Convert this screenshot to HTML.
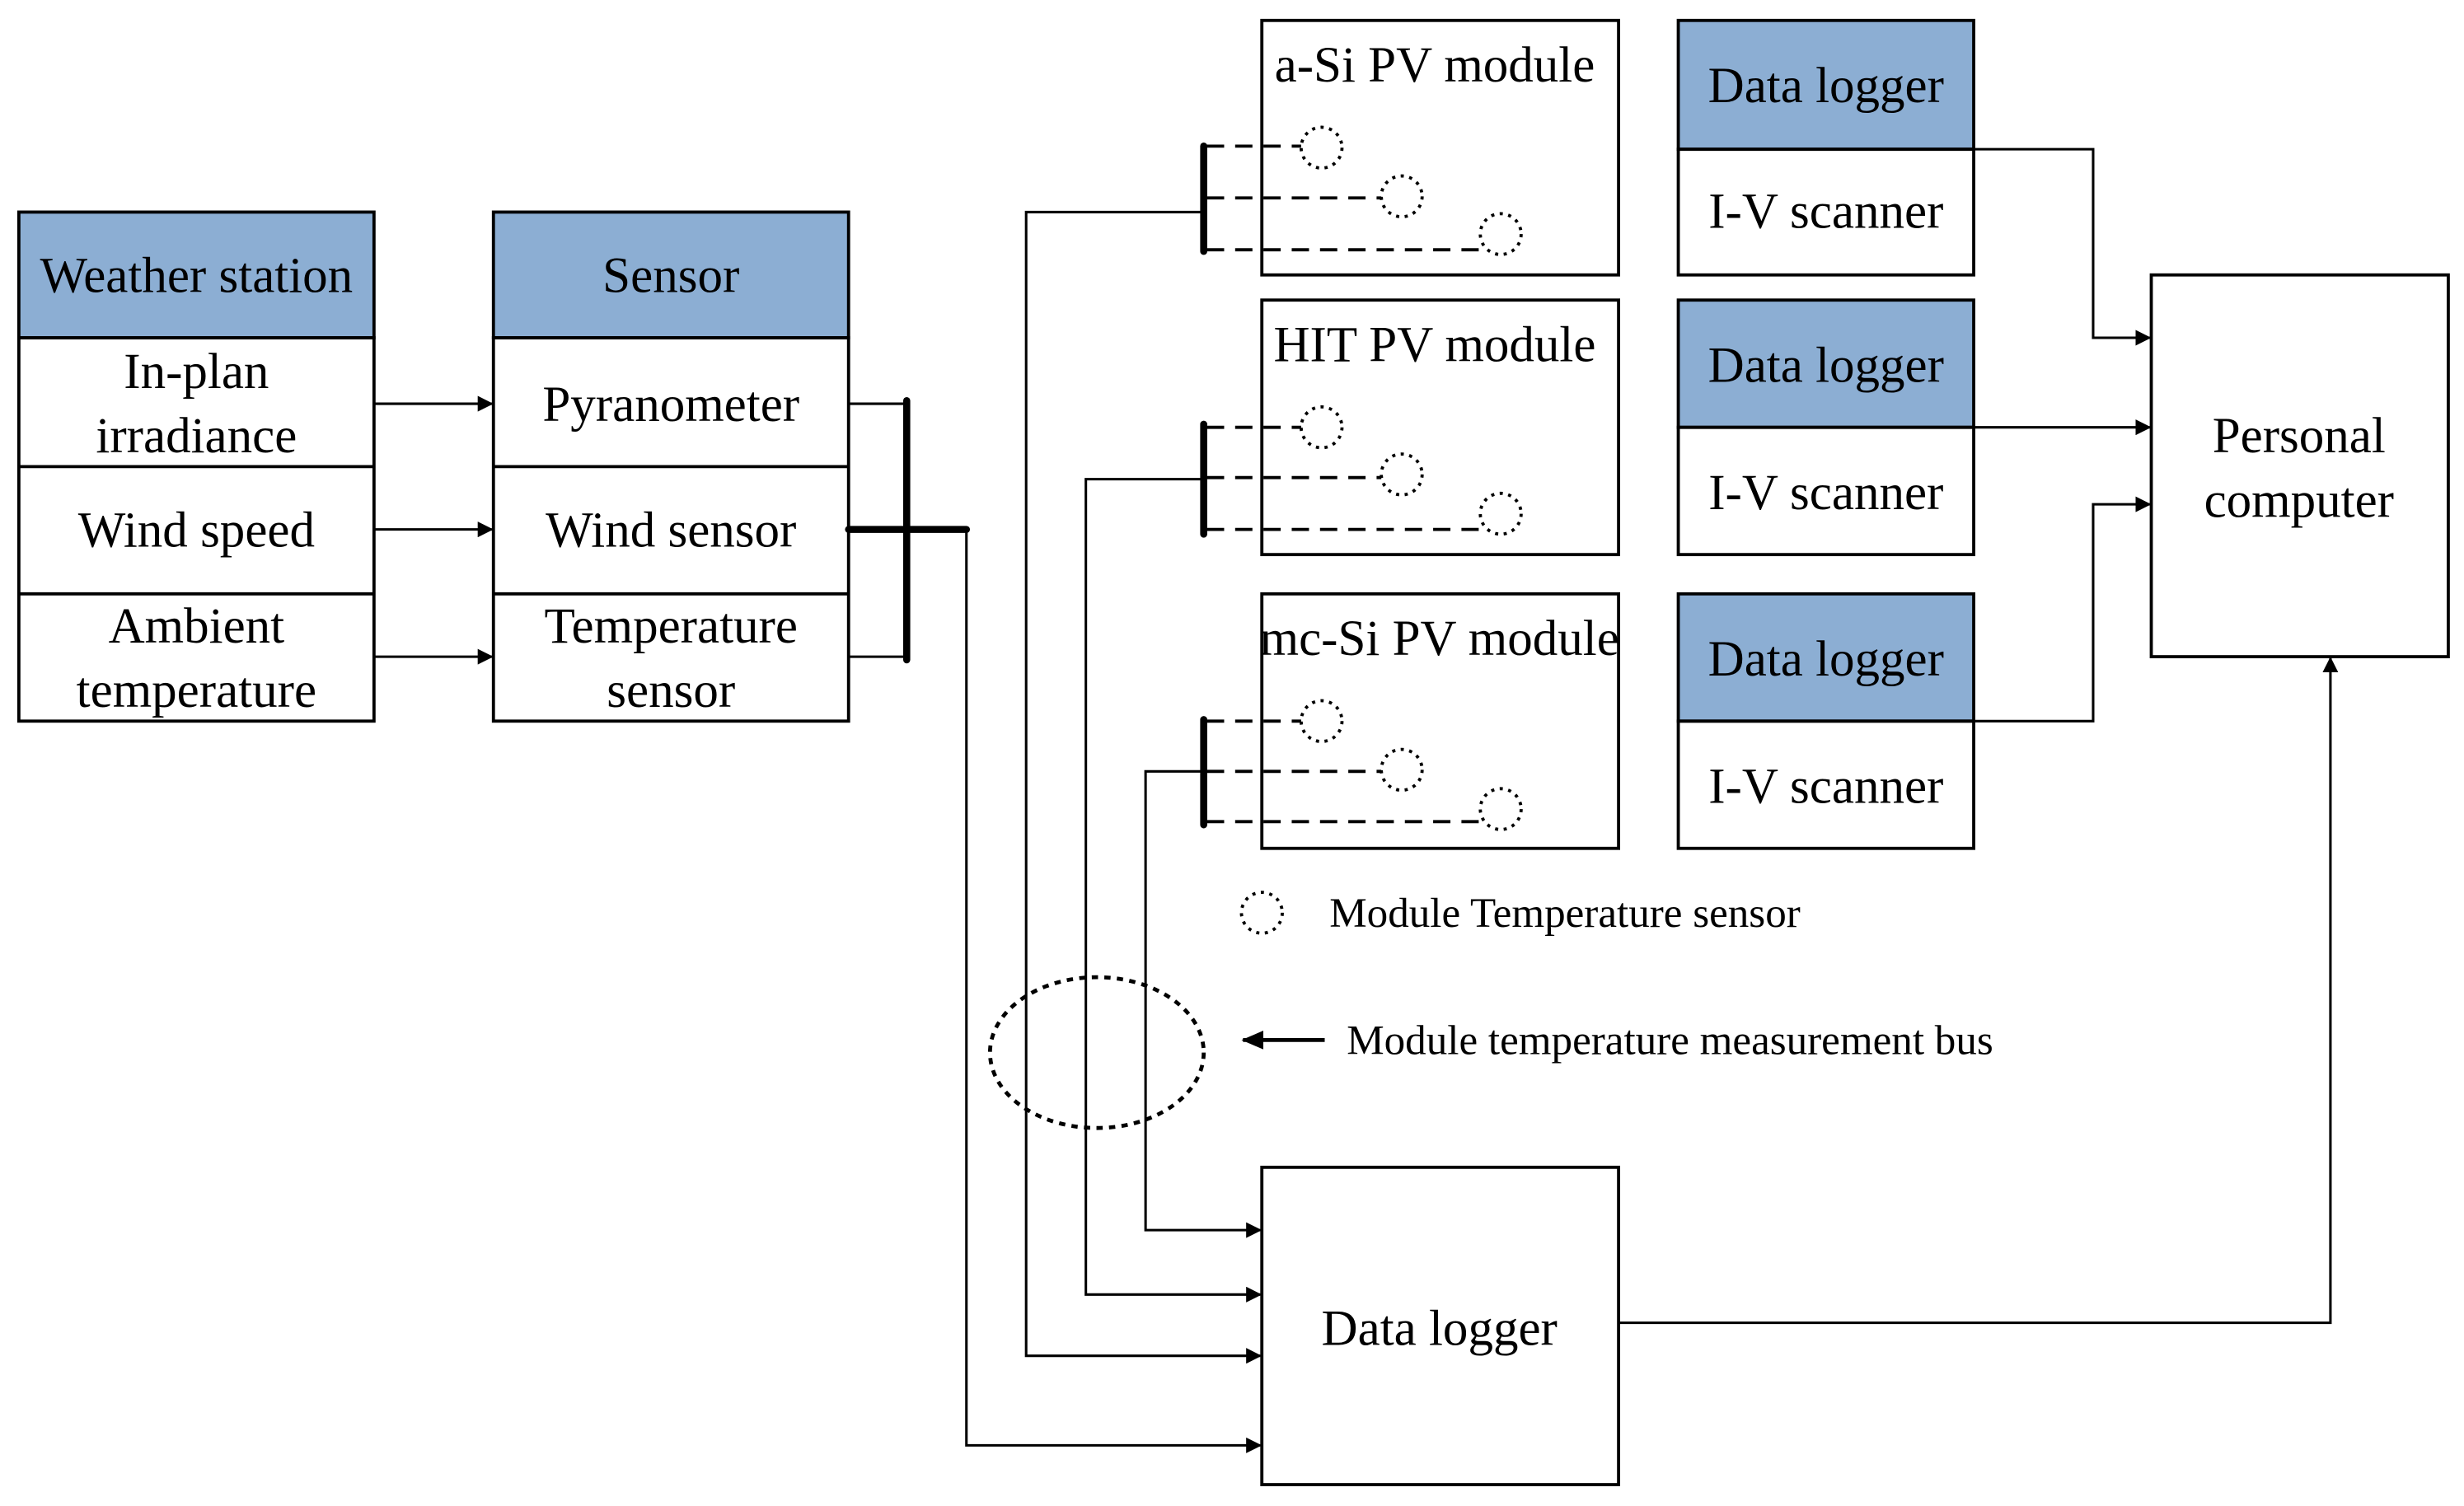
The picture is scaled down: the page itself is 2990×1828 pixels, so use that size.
<!DOCTYPE html>
<html><head><meta charset="utf-8"><style>html,body{margin:0;padding:0;background:#fff}svg{display:block}</style></head><body>
<svg width="2990" height="1828" viewBox="0 0 1568 958.6" preserveAspectRatio="none" xmlns="http://www.w3.org/2000/svg" font-family="Liberation Serif, serif">
<defs><marker id="a" markerWidth="10" markerHeight="10" refX="9" refY="5" orient="auto" markerUnits="userSpaceOnUse"><path d="M0,0 L10,5 L0,10 z" fill="#000"/></marker>
<marker id="b" markerWidth="14" markerHeight="12" refX="13" refY="6" orient="auto" markerUnits="userSpaceOnUse"><path d="M0,0 L14,6 L0,12 z" fill="#000"/></marker></defs>
<g stroke="#000" stroke-width="2" fill="none">
<rect x="12" y="135" width="226" height="80" fill="#8caed3"/>
<rect x="12" y="215" width="226" height="244"/><line x1="12" y1="297" x2="238" y2="297"/><line x1="12" y1="378" x2="238" y2="378"/>
<rect x="314" y="135" width="226" height="80" fill="#8caed3"/>
<rect x="314" y="215" width="226" height="244"/><line x1="314" y1="297" x2="540" y2="297"/><line x1="314" y1="378" x2="540" y2="378"/>
</g>
<g stroke="#000" stroke-width="1.6" fill="none">
<line x1="238" y1="257" x2="313" y2="257" marker-end="url(#a)"/>
<line x1="238" y1="337" x2="313" y2="337" marker-end="url(#a)"/>
<line x1="238" y1="418" x2="313" y2="418" marker-end="url(#a)"/>
<line x1="540" y1="257" x2="577" y2="257"/><line x1="540" y1="418" x2="577" y2="418"/>
<polyline points="615,337 615,920 802,920" marker-end="url(#a)"/>
<polyline points="766,135 653,135 653,863 802,863" marker-end="url(#a)"/>
<polyline points="766,305 691,305 691,824 802,824" marker-end="url(#a)"/>
<polyline points="766,491 729,491 729,783 802,783" marker-end="url(#a)"/>
<polyline points="1030,842 1483,842 1483,419" marker-end="url(#a)"/>
<polyline points="1256,95 1332,95 1332,215 1368,215" marker-end="url(#a)"/>
<polyline points="1256,272 1368,272" marker-end="url(#a)"/>
<polyline points="1256,459 1332,459 1332,321 1368,321" marker-end="url(#a)"/>
</g>
<g stroke="#000" stroke-width="4.5" stroke-linecap="round">
<line x1="577" y1="255" x2="577" y2="420"/><line x1="540" y1="337" x2="615" y2="337"/>
<line x1="766" y1="93" x2="766" y2="160"/><line x1="766" y1="270" x2="766" y2="340"/><line x1="766" y1="458" x2="766" y2="525"/>
</g>
<g stroke="#000" stroke-width="2" fill="none">
<rect x="803" y="13" width="227" height="162"/><rect x="803" y="191" width="227" height="162"/><rect x="803" y="378" width="227" height="162"/>
<rect x="803" y="743" width="227" height="202"/>
<rect x="1068" y="13" width="188" height="82" fill="#8caed3"/><rect x="1068" y="95" width="188" height="80"/>
<rect x="1068" y="191" width="188" height="81" fill="#8caed3"/><rect x="1068" y="272" width="188" height="81"/>
<rect x="1068" y="378" width="188" height="81" fill="#8caed3"/><rect x="1068" y="459" width="188" height="81"/>
<rect x="1369" y="175" width="189" height="243"/>
</g>
<g stroke="#000" stroke-width="2" stroke-dasharray="11,7" fill="none">
<line x1="768" y1="93" x2="828" y2="93"/><line x1="768" y1="126" x2="879" y2="126"/><line x1="768" y1="159" x2="942" y2="159"/>
<line x1="768" y1="272" x2="828" y2="272"/><line x1="768" y1="304" x2="879" y2="304"/><line x1="768" y1="337" x2="942" y2="337"/>
<line x1="768" y1="459" x2="828" y2="459"/><line x1="768" y1="491" x2="879" y2="491"/><line x1="768" y1="523" x2="942" y2="523"/>
</g>
<g stroke="#000" stroke-width="2" stroke-dasharray="2,3.5" fill="none">
<circle cx="841" cy="94" r="13"/><circle cx="892" cy="125" r="13"/><circle cx="955" cy="149" r="13"/>
<circle cx="841" cy="272" r="13"/><circle cx="892" cy="302" r="13"/><circle cx="955" cy="327" r="13"/>
<circle cx="841" cy="459" r="13"/><circle cx="892" cy="490" r="13"/><circle cx="955" cy="515" r="13"/>
<circle cx="803" cy="581" r="13"/>
<ellipse cx="698" cy="670" rx="68" ry="48" stroke-width="2.5" stroke-dasharray="4,4"/>
</g>
<line x1="843" y1="662" x2="791" y2="662" stroke="#000" stroke-width="2.5" marker-end="url(#b)"/>
<g font-size="32" text-anchor="middle" fill="#000">
<text x="125" y="186">Weather station</text>
<text x="125" y="247">In-plan</text><text x="125" y="288">irradiance</text>
<text x="125" y="348">Wind speed</text>
<text x="125" y="409">Ambient</text><text x="125" y="450">temperature</text>
<text x="427" y="186">Sensor</text>
<text x="427" y="268">Pyranometer</text>
<text x="427" y="348">Wind sensor</text>
<text x="427" y="409">Temperature</text><text x="427" y="450">sensor</text>
<text x="913" y="52">a-Si PV module</text>
<text x="913" y="230">HIT PV module</text>
<text x="916" y="417">mc-Si PV module</text>
<text x="916" y="856">Data logger</text>
<text x="1162" y="65">Data logger</text><text x="1162" y="145">I-V scanner</text>
<text x="1162" y="243">Data logger</text><text x="1162" y="324">I-V scanner</text>
<text x="1162" y="430">Data logger</text><text x="1162" y="511">I-V scanner</text>
<text x="1463" y="288">Personal</text><text x="1463" y="329">computer</text>
</g>
<g font-size="26.8" fill="#000">
<text x="846" y="590">Module Temperature sensor</text>
<text x="857" y="671">Module temperature measurement bus</text>
</g>
</svg>
</body></html>
